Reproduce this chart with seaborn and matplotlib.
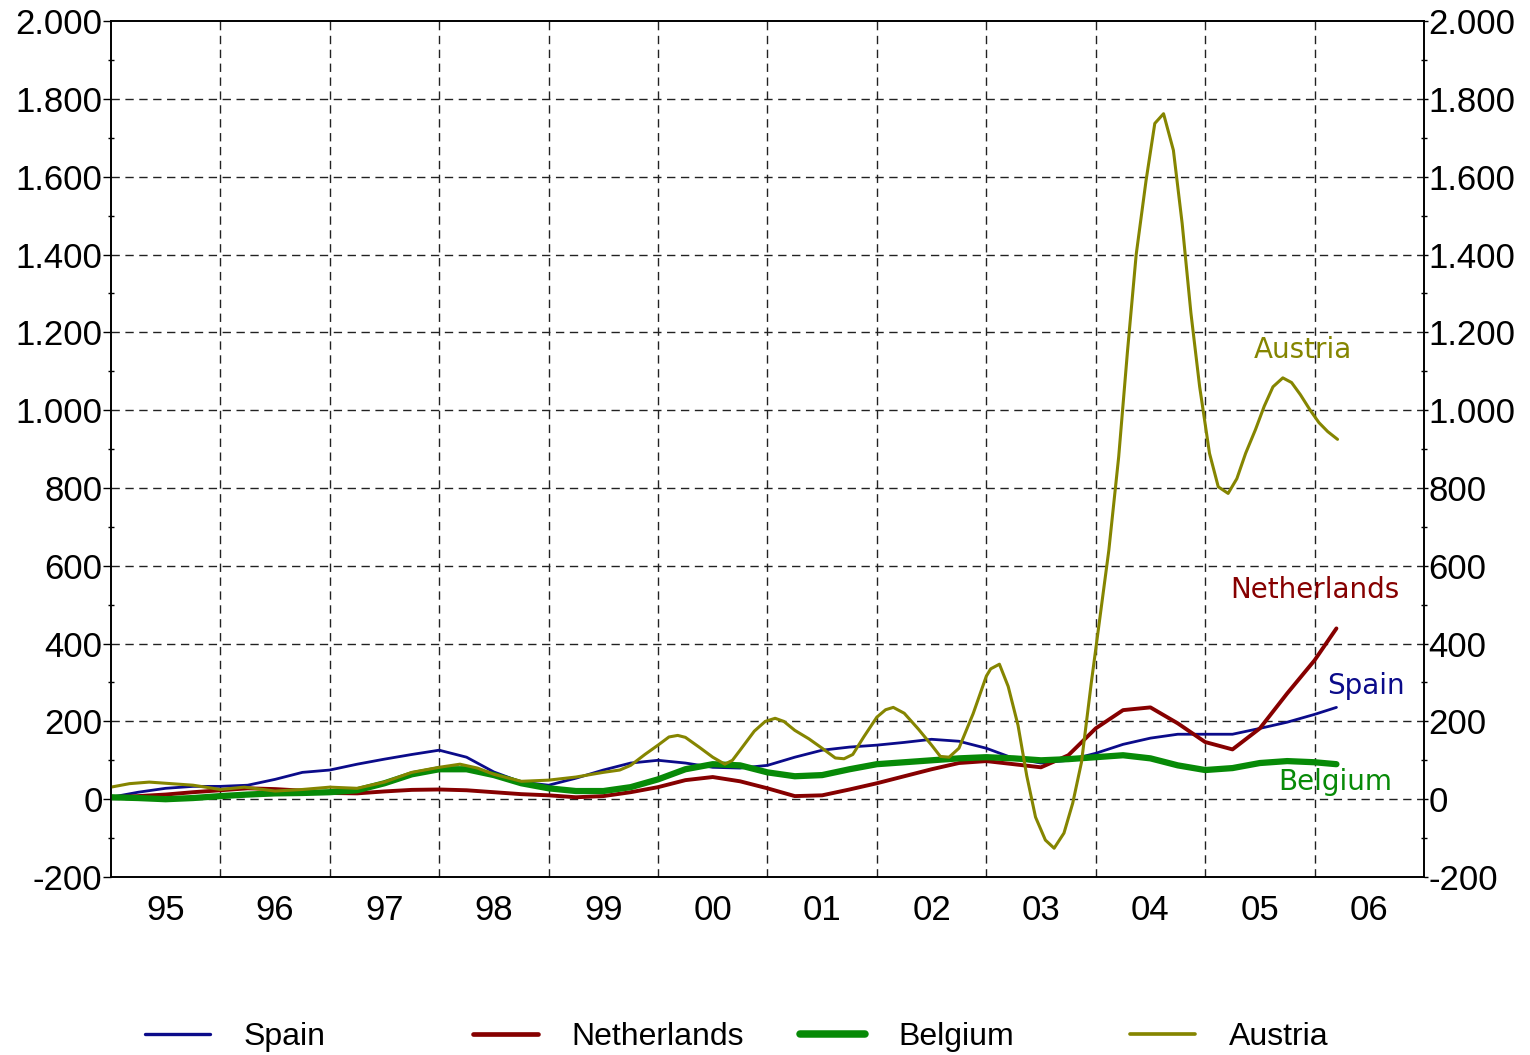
import numpy as np
import pandas as pd
import matplotlib
matplotlib.use("Agg")
import matplotlib.pyplot as plt
import matplotlib.ticker as mticker
from matplotlib.lines import Line2D
import seaborn as sns

# --------------------------------------------------------------
# Data
# --------------------------------------------------------------

quarters = [
    1995.00, 1995.25, 1995.50, 1995.75, 1996.00, 1996.25, 1996.50, 1996.75,
    1997.00, 1997.25, 1997.50, 1997.75, 1998.00, 1998.25, 1998.50, 1998.75,
    1999.00, 1999.25, 1999.50, 1999.75, 2000.00, 2000.25, 2000.50, 2000.75,
    2001.00, 2001.25, 2001.50, 2001.75, 2002.00, 2002.25, 2002.50, 2002.75,
    2003.00, 2003.25, 2003.50, 2003.75, 2004.00, 2004.25, 2004.50, 2004.75,
    2005.00, 2005.25, 2005.50, 2005.75, 2006.00, 2006.20,
]

spain = [
    5, 18, 28, 33, 33, 36, 51, 69,
    75, 90, 103, 115, 126, 108, 70, 44,
    36, 54, 75, 93, 100, 93, 82, 80,
    87, 108, 126, 134, 139, 146, 154, 149,
    131, 105, 93, 100, 118, 141, 157, 167,
    167, 167, 182, 198, 218, 236,
]

netherlands = [
    5, 8, 12, 18, 23, 28, 26, 22,
    16, 15, 20, 24, 25, 23, 18, 13,
    10, 5, 8, 18, 31, 49, 57, 46,
    28, 8, 10, 25, 41, 59, 77, 93,
    98, 90, 82, 113, 182, 229, 236, 195,
    147, 128, 182, 272, 357, 439,
]

belgium = [
    5, 3, 0, 3, 8, 12, 15, 16,
    18, 23, 41, 64, 77, 77, 62, 41,
    28, 21, 21, 31, 51, 77, 90, 87,
    69, 59, 62, 77, 90, 95, 100, 105,
    108, 105, 100, 103, 108, 113, 105, 87,
    75, 80, 93, 98, 95, 90,
]

austria_t = [
    1995.00, 1995.17, 1995.35, 1995.55, 1995.75, 1996.00, 1996.22, 1996.50,
    1996.75, 1997.00, 1997.25, 1997.50, 1997.75, 1998.00, 1998.19, 1998.35,
    1998.50, 1998.75, 1999.00, 1999.25, 1999.50, 1999.65, 1999.75, 1999.88,
    2000.00, 2000.10, 2000.18, 2000.25, 2000.38, 2000.50, 2000.61, 2000.68,
    2000.75, 2000.88, 2000.98, 2001.07, 2001.15, 2001.25, 2001.38, 2001.50,
    2001.62, 2001.70, 2001.78, 2001.88, 2002.00, 2002.08, 2002.15, 2002.25,
    2002.38, 2002.50, 2002.58, 2002.66, 2002.75, 2002.88, 2003.00, 2003.04,
    2003.12, 2003.20, 2003.29, 2003.37, 2003.45, 2003.54, 2003.62, 2003.71,
    2003.79, 2003.87, 2003.96, 2004.04, 2004.12, 2004.21, 2004.29, 2004.37,
    2004.46, 2004.54, 2004.62, 2004.71, 2004.79, 2004.87, 2004.95, 2005.04,
    2005.12, 2005.21, 2005.29, 2005.37, 2005.46, 2005.54, 2005.62, 2005.71,
    2005.79, 2005.87, 2005.96, 2006.04, 2006.12, 2006.21,
]

austria = [
    31, 40, 44, 40, 36, 25, 31, 21,
    25, 31, 28, 44, 69, 82, 90, 80,
    64, 46, 49, 57, 69, 75, 87, 115,
    139, 160, 164, 159, 133, 108, 90, 100,
    126, 175, 200, 208, 200, 177, 155, 131,
    106, 104, 115, 160, 211, 230, 236, 221,
    180, 139, 110, 108, 131, 220, 316, 335,
    347, 290, 190, 60, -46, -105, -126, -87,
    -10, 95, 300, 470, 640, 880, 1150, 1400,
    1590, 1737, 1762, 1668, 1480, 1250, 1060, 889,
    803, 786, 824, 889, 950, 1010, 1060, 1083,
    1071, 1040, 1000, 968, 945, 925,
]

year_labels = ["95", "96", "97", "98", "99", "00", "01", "02", "03", "04", "05", "06"]

countries = ["Spain", "Netherlands", "Belgium", "Austria"]
colors = {"Spain": "#0b0b8a", "Netherlands": "#860000",
          "Belgium": "#078a07", "Austria": "#858500"}
widths = {"Spain": 2.0, "Netherlands": 2.8, "Belgium": 4.5, "Austria": 2.2}

df = pd.concat([
    pd.DataFrame({"t": quarters, "value": spain, "country": "Spain"}),
    pd.DataFrame({"t": quarters, "value": netherlands, "country": "Netherlands"}),
    pd.DataFrame({"t": quarters, "value": belgium, "country": "Belgium"}),
    pd.DataFrame({"t": austria_t, "value": austria, "country": "Austria"}),
])

# --------------------------------------------------------------
# Plot
# --------------------------------------------------------------

sns.set_style("white")
plt.rcParams["font.family"] = ["Liberation Sans", "DejaVu Sans"]
plt.rcParams["text.color"] = "black"
plt.rcParams["xtick.color"] = "black"
plt.rcParams["ytick.color"] = "black"

fig = plt.figure(figsize=(15.3, 10.55), dpi=100)
ax = fig.add_axes([0.0725, 0.1687, 0.8582, 0.8113])

for c in countries:
    sns.lineplot(data=df[df["country"] == c], x="t", y="value", ax=ax,
                 color=colors[c], lw=widths[c], estimator=None, sort=False,
                 legend=False, zorder=3)

ax.set_xlim(1995, 2007)
ax.set_ylim(-200, 2000)
ax.set_xlabel("")
ax.set_ylabel("")

# gridlines
for yr in range(1996, 2007):
    ax.axvline(yr, color="#222222", lw=1, ls=(0, (6, 4)), zorder=1)
for v in range(-200, 2001, 200):
    if -200 < v < 2000:
        ax.axhline(v, color="#222222", lw=1, ls=(0, (6, 4)), zorder=1)

ax.xaxis.set_major_locator(mticker.FixedLocator(range(1995, 2008)))
ax.xaxis.set_major_formatter(mticker.NullFormatter())
ax.xaxis.set_minor_locator(mticker.FixedLocator([y + 0.5 for y in range(1995, 2007)]))
ax.xaxis.set_minor_formatter(mticker.FixedFormatter(year_labels))
ax.tick_params(axis="x", which="major", length=0)
ax.tick_params(axis="x", which="minor", length=0, labelsize=25, pad=12,
               labelcolor="black")

fmt = mticker.FuncFormatter(lambda v, p: f"{int(v):,}".replace(",", "."))
ax.yaxis.set_major_locator(mticker.MultipleLocator(200))
ax.yaxis.set_minor_locator(mticker.MultipleLocator(100))
ax.yaxis.set_major_formatter(fmt)
ax.tick_params(axis="y", which="major", direction="out", length=6, width=1,
               labelsize=25, pad=0, left=True, labelcolor="black")
ax.tick_params(axis="y", which="minor", direction="inout", length=5, width=1, left=True)

ax2 = ax.twinx()
ax2.set_ylim(-200, 2000)
ax2.yaxis.set_major_locator(mticker.MultipleLocator(200))
ax2.yaxis.set_minor_locator(mticker.MultipleLocator(100))
ax2.yaxis.set_major_formatter(fmt)
ax2.tick_params(axis="y", which="major", direction="out", length=3, width=1,
                labelsize=25, pad=0, right=True, labelcolor="black")
ax2.tick_params(axis="y", which="minor", direction="inout", length=5, width=1, right=True)

for a in (ax, ax2):
    for s in a.spines.values():
        s.set_color("black")
        s.set_linewidth(1.2)

# inline labels
lab_font = dict(family="DejaVu Sans", fontsize=20)
ax.text(2005.89, 1154, "Austria", color=colors["Austria"], ha="center", va="center", **lab_font)
ax.text(2006.0, 537, "Netherlands", color=colors["Netherlands"], ha="center", va="center", **lab_font)
ax.text(2006.47, 290, "Spain", color=colors["Spain"], ha="center", va="center", **lab_font)
ax.text(2006.19, 44, "Belgium", color=colors["Belgium"], ha="center", va="center", **lab_font)

# legend: four equally spaced entries along the bottom
starts = [145, 473, 800, 1130]
for c, x0 in zip(countries, starts):
    h = Line2D([], [], color=colors[c], lw=widths[c] * 1.2)
    fig.legend(handles=[h], labels=[c], loc="center left",
               bbox_to_anchor=(x0 / 1530 - 0.0085, 1 - 1037 / 1055),
               frameon=False, fontsize=23, handlelength=2.05, handletextpad=1.05,
               borderaxespad=0, labelcolor="black")

fig.savefig("out.png", dpi=100)
